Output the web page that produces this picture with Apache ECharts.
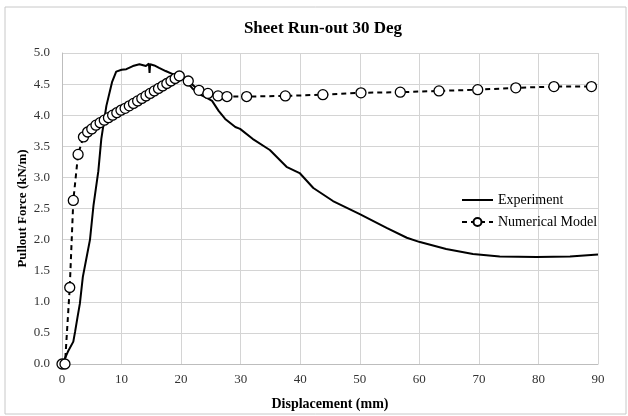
<!DOCTYPE html>
<html>
<head>
<meta charset="utf-8">
<title>Sheet Run-out 30 Deg</title>
<script src="https://cdn.jsdelivr.net/npm/echarts@6/dist/echarts.min.js"></script>
<style>
  html, body { margin: 0; padding: 0; background: #fff; }
  #main { width: 628px; height: 416px; }
</style>
</head>
<body>
<div id="main"></div>
<script>
// experiment curve (displacement mm, force kN/m)
const expX = [0, 0.3, 1.0, 1.9, 2.2, 2.6, 3.0, 3.5, 4.1, 4.7, 5.3, 6.1, 6.6, 7.45, 8.4, 9.1, 10.0, 10.8, 11.9, 13.0, 14.1, 14.6, 14.7, 14.8, 15.5, 16.3, 17.4, 18.6, 19.7, 20.8, 21.9, 23.0, 24.1, 25.2, 26.3, 27.4, 29.1, 29.9, 32.0, 34.9, 37.7, 39.9, 42.2, 45.5, 50.0, 54.5, 57.9, 60.1, 64.5, 69.0, 73.5, 79.7, 85.3, 90.0];
const expY = [0, 0.05, 0.2, 0.36, 0.52, 0.75, 0.97, 1.4, 1.7, 2.0, 2.56, 3.1, 3.62, 4.15, 4.53, 4.70, 4.73, 4.74, 4.79, 4.82, 4.79, 4.83, 4.68, 4.82, 4.80, 4.76, 4.71, 4.66, 4.63, 4.55, 4.43, 4.34, 4.29, 4.23, 4.07, 3.94, 3.81, 3.78, 3.62, 3.44, 3.17, 3.07, 2.83, 2.62, 2.41, 2.19, 2.03, 1.96, 1.85, 1.77, 1.73, 1.72, 1.73, 1.76];

// numerical model points
const numX = [0, 0.5, 1.3, 1.9, 2.7, 3.6, 4.3, 5.0, 5.7, 6.4, 7.1, 7.8, 8.5, 9.2, 9.9, 10.6, 11.3, 12.0, 12.7, 13.4, 14.1, 14.8, 15.5, 16.2, 16.9, 17.6, 18.3, 19.0, 19.7, 21.2, 23.0, 24.5, 26.2, 27.7, 31.0, 37.5, 43.8, 50.2, 56.8, 63.3, 69.8, 76.2, 82.6, 88.9];
const numY = [0, 0, 1.23, 2.63, 3.37, 3.65, 3.73, 3.78, 3.84, 3.88, 3.92, 3.96, 4.00, 4.04, 4.08, 4.11, 4.15, 4.19, 4.23, 4.27, 4.31, 4.35, 4.39, 4.43, 4.47, 4.51, 4.55, 4.59, 4.63, 4.55, 4.40, 4.35, 4.31, 4.30, 4.30, 4.31, 4.33, 4.36, 4.37, 4.39, 4.41, 4.44, 4.46, 4.46];

const yTicks = ['0.0', '0.5', '1.0', '1.5', '2.0', '2.5', '3.0', '3.5', '4.0', '4.5', '5.0'];

const serif = '"Liberation Serif", "DejaVu Serif", serif';

function pairs(xs, ys) {
  return xs.map((x, i) => [x, ys[i]]);
}

let chart = echarts.init(document.getElementById('main'));
let option = {
  animation: false,
  backgroundColor: '#fff',
  textStyle: {fontFamily: serif},
  title: {
    text: 'Sheet Run-out 30 Deg',
    left: 318,
    top: 15,
    textAlign: 'center',
    textStyle: {fontFamily: serif, fontSize: 17, fontWeight: 'bold', color: '#000'}
  },
  grid: {left: 62, right: 30, top: 53, bottom: 48, containLabel: false},
  legend: {
    orient: 'vertical',
    left: 456,
    top: 188,
    itemWidth: 31,
    itemHeight: 10,
    itemGap: 8,
    textStyle: {fontFamily: serif, fontSize: 14, color: '#000'},
    data: [
      {name: 'Experiment', itemStyle: {opacity: 0}},
      {name: 'Numerical Model'}
    ]
  },
  xAxis: {
    type: 'value',
    min: 0, max: 90, interval: 10,
    name: 'Displacement (mm)',
    nameLocation: 'middle',
    nameGap: 33,
    nameMoveOverlap: false,
    nameTextStyle: {fontFamily: serif, fontSize: 14, fontWeight: 'bold', color: '#000'},
    axisLine: {show: true, lineStyle: {color: '#bdbdbd', width: 1}},
    axisTick: {show: false},
    axisLabel: {fontFamily: serif, fontSize: 13, color: '#333', margin: 9},
    splitLine: {show: true, lineStyle: {color: '#d4d4d4', width: 1}}
  },
  yAxis: {
    type: 'value',
    min: 0, max: 5, interval: 0.5,
    name: 'Pullout Force (kN/m)',
    nameLocation: 'middle',
    nameGap: 33,
    nameMoveOverlap: false,
    nameTextStyle: {fontFamily: serif, fontSize: 13, fontWeight: 'bold', color: '#000'},
    axisLine: {show: true, lineStyle: {color: '#bdbdbd', width: 1}},
    axisTick: {show: false},
    axisLabel: {fontFamily: serif, fontSize: 13, color: '#333', margin: 12,
      formatter: v => yTicks[Math.round(v * 2)]},
    splitLine: {show: true, lineStyle: {color: '#d4d4d4', width: 1}}
  },
  series: [
    {
      name: 'Experiment',
      type: 'line',
      data: pairs(expX, expY),
      showSymbol: false,
      symbol: 'none',
      lineStyle: {color: '#000', width: 2},
      itemStyle: {color: '#000'},
      z: 3
    },
    {
      name: 'Numerical Model',
      type: 'line',
      data: pairs(numX, numY),
      symbol: 'circle',
      symbolSize: 10,
      lineStyle: {color: '#000', width: 2, type: [5, 4]},
      itemStyle: {color: '#fff', borderColor: '#000', borderWidth: 1.3},
      z: 4
    }
  ],
  graphic: [{
    type: 'rect',
    shape: {x: 5, y: 7, width: 621, height: 407},
    style: {fill: 'none', stroke: '#c8c8c8', lineWidth: 1},
    silent: true
  }]
};
chart.setOption(option);
</script>
</body>
</html>
